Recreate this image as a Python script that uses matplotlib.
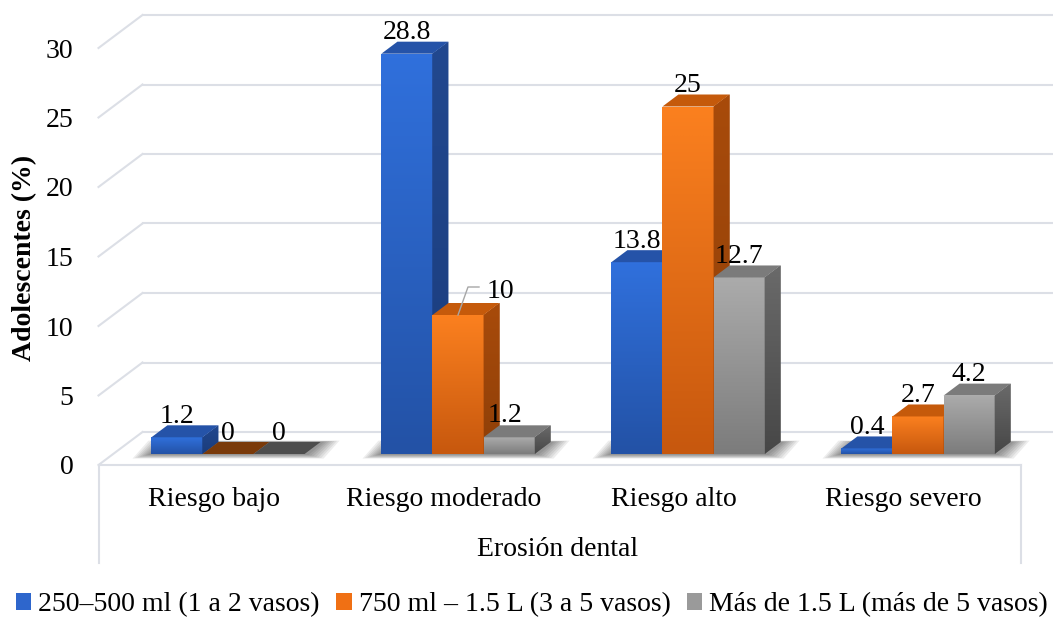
import numpy as np
import matplotlib.pyplot as plt
from matplotlib.patches import Polygon, Patch
from matplotlib.colors import LinearSegmentedColormap

plt.rcParams['font.family'] = ['Liberation Serif', 'DejaVu Serif']
plt.rcParams['font.size'] = 20

categorias = ['Riesgo bajo', 'Riesgo moderado', 'Riesgo alto', 'Riesgo severo']
series = ['250–500 ml (1 a 2 vasos)', '750 ml – 1.5 L (3 a 5 vasos)',
          'Más de 1.5 L (más de 5 vasos)']
vasos_1_2 = [1.2, 28.8, 13.8, 0.4]
vasos_3_5 = [0, 10, 25, 2.7]
vasos_mas_5 = [0, 1.2, 12.7, 4.2]
valores = [vasos_1_2, vasos_3_5, vasos_mas_5]
yticks = [0, 5, 10, 15, 20, 25, 30]

# front (bottom, top), side, top face, flat face for zero values
estilos = [
    dict(front=('#2352a6', '#3070dc'), side=('#1a3c7c', '#22488f'), top='#2553a8', zero='#2553a8', legend='#2e66cc'),
    dict(front=('#c7580e', '#fb801f'), side=('#8f3f08', '#a84b0b'), top='#c55a0b', zero='#7a3a0a', legend='#f07014'),
    dict(front=('#7c7c7c', '#ababab'), side=('#474747', '#6a6a6a'), top='#7b7b7b', zero='#4d4d4d', legend='#9a9a9a'),
]
grid_color = '#dcdfe6'

fig = plt.figure(figsize=(10.53, 6.19), dpi=100)
ax = fig.add_axes([113 / 1053, 165 / 619, 920 / 1053, 417 / 619])
xmin, xmax, ymax = -0.5, 3.5, 30
ax.set_xlim(xmin, xmax)
ax.set_ylim(0, ymax)
ax.axis('off')

bb = ax.get_window_extent()
ux = bb.width / (xmax - xmin)
uy = bb.height / ymax


def px(dx, dy):
    # pixel offsets -> data units
    return dx / ux, dy / uy


bar_dx, bar_dy = px(16, 12)      # depth of each column
back_dx, back_dy = px(29.5, 22)  # back wall relative to the column plane
front_dx, front_dy = px(-14.5, -11)  # front edge of the floor

# walls: left side diagonals and back wall gridlines
for v in yticks:
    ax.plot([xmin + front_dx, xmin + back_dx], [v + front_dy, v + back_dy],
            color=grid_color, lw=1.5, clip_on=False, zorder=1)
    ax.plot([xmin + back_dx, xmax + back_dx + 0.2], [v + back_dy, v + back_dy],
            color=grid_color, lw=1.5, clip_on=False, zorder=1)
    ax.annotate(str(v), xy=(xmin + front_dx, v + front_dy), xytext=(-25, 0),
                textcoords='offset pixels', ha='right', va='center_baseline',
                annotation_clip=False)

# floor front edge and category box
y_box = front_dy - 98 / uy
ax.plot([xmin + front_dx, xmax + front_dx + 2 / ux], [front_dy, front_dy],
        color=grid_color, lw=1.5, clip_on=False, zorder=1)
for xe in [xmin + front_dx, xmax + front_dx + 2 / ux]:
    ax.plot([xe, xe], [front_dy, y_box], color=grid_color, lw=1.5, clip_on=False, zorder=1)

w = 0.222
x = np.arange(len(categorias))

# soft shadows on the floor
for i in x:
    xl, xr = i - 1.5 * w, i + 1.5 * w
    for k in range(7):
        ex, ey = px(4 + 2.5 * k, 1 + 0.6 * k)
        sh = Polygon([(xl - ex, -ey), (xr + ex, -ey),
                      (xr + bar_dx + ex, bar_dy + ey * 0.3), (xl + bar_dx - ex, bar_dy + ey * 0.3)],
                     closed=True, facecolor='black', edgecolor='none', alpha=0.07,
                     clip_on=False, zorder=2)
        ax.add_patch(sh)


def gradient(patch, c0, c1, z, extent):
    cm = LinearSegmentedColormap.from_list('g', [c0, c1])
    im = ax.imshow(np.linspace(0, 1, 64).reshape(-1, 1), extent=extent, origin='lower',
                   cmap=cm, aspect='auto', zorder=z, interpolation='bilinear')
    im.set_clip_path(patch)


z = 10
for i in x:
    for k, (vals, st) in enumerate(zip(valores, estilos)):
        h = vals[i]
        xc = i + (k - 1) * w
        x0, x1 = xc - w / 2, xc + w / 2
        if h > 0:
            rect = ax.bar(xc, h, width=w, color=st['front'][1], edgecolor='none',
                          zorder=z, clip_on=False)[0]
            gradient(rect, st['front'][0], st['front'][1], z + 0.1, [x0, x1, 0, h])
            side = Polygon([(x1, 0), (x1 + bar_dx, bar_dy), (x1 + bar_dx, h + bar_dy), (x1, h)],
                           closed=True, facecolor=st['side'][1], edgecolor='none',
                           zorder=z + 0.2, clip_on=False)
            ax.add_patch(side)
            gradient(side, st['side'][0], st['side'][1], z + 0.25, [x1, x1 + bar_dx, 0, h + bar_dy])
            top_c = st['top']
        else:
            top_c = st['zero']
        top = Polygon([(x0, h), (x1, h), (x1 + bar_dx, h + bar_dy), (x0 + bar_dx, h + bar_dy)],
                      closed=True, facecolor=top_c, edgecolor='none', zorder=z + 0.3, clip_on=False)
        ax.add_patch(top)
        z += 1

# value labels
offsets = {(1, 1): (42, 27), (2, 1): (-4, 25)}
for k, vals in enumerate(valores):
    for i in x:
        h = vals[i]
        xc = i + (k - 1) * w
        ox, oy = offsets.get((k, i), (0, 24))
        ax.annotate(f'{h:g}', xy=(xc, h), xytext=(ox, oy), textcoords='offset pixels',
                    ha='center', va='center_baseline', zorder=100, annotation_clip=False)
        if (k, i) == (1, 1):
            lx1, ly1 = px(10, 28)
            lx2, _ = px(21, 28)
            ax.plot([xc, xc + lx1, xc + lx2], [h, h + ly1, h + ly1], color='#a6a6a6',
                    lw=1, clip_on=False, zorder=100)

# category labels on the front edge
for i, cat in enumerate(categorias):
    ax.annotate(cat, xy=(i + front_dx, front_dy), xytext=(0, -32), textcoords='offset pixels',
                ha='center', va='center_baseline', annotation_clip=False)

fig.text(558 / 1053, 1 - 546 / 619, 'Erosión dental', ha='center', va='center_baseline')
fig.text(25 / 1053, 1 - 258 / 619, 'Adolescentes (%)', rotation=90, fontweight='bold',
         ha='center', va='center')

handles = [Patch(facecolor=st['legend'], edgecolor='none') for st in estilos]
fig.legend(handles, series, loc='center left', bbox_to_anchor=(16 / 1053, 1 - 605 / 619),
           ncol=3, frameon=False, handlelength=0.55, handleheight=0.55, handletextpad=0.25,
           columnspacing=0.6, borderaxespad=0, borderpad=0, fontsize=20)

fig.savefig('out.png', dpi=100)
